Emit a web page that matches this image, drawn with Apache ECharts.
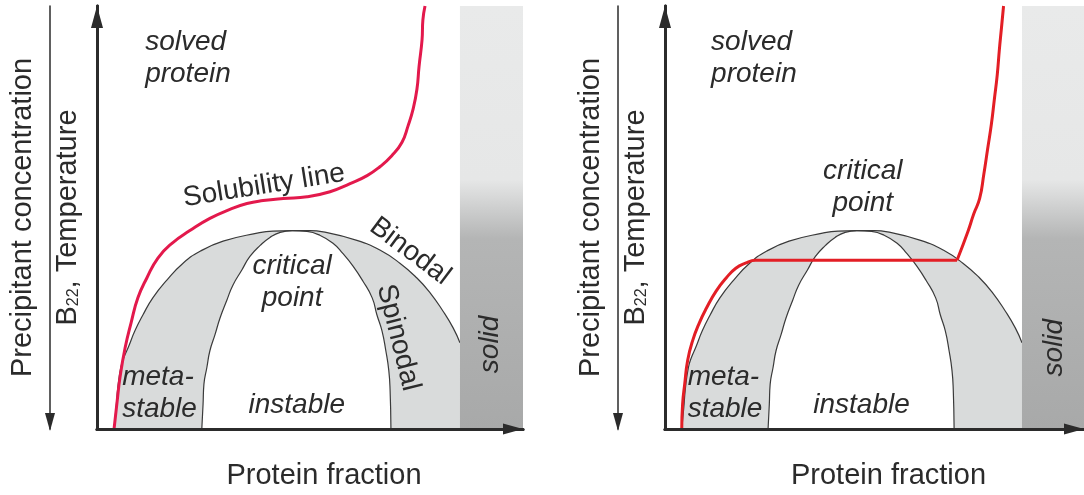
<!DOCTYPE html>
<html>
<head>
  <meta charset="UTF-8">
  <title>Phase diagram</title>
  <script src="https://cdn.jsdelivr.net/npm/echarts@6/dist/echarts.min.js"></script>
</head>
<body style="margin:0">
  <div id="main" style="width: 1084px; height: 495px;"></div>

  <script>
    // x = protein fraction, y = precipitant concentration (schematic 0..100)
    const binodal = [[4.0, 0], [4.5, 5.2], [4.9, 9.9], [5.6, 14.6], [6.3, 16.9], [7.3, 19.2], [8.9, 23.2],
      [10.8, 27.0], [13.1, 31.0], [16.4, 35.2], [20.2, 39.2], [24.2, 42.0], [29.6, 44.4], [37.6, 46.3],
      [41.3, 46.8], [45.8, 46.9], [50.0, 46.9], [53.1, 46.6], [61.0, 44.6], [66.4, 42.3], [71.1, 39.2],
      [75.1, 35.7], [78.2, 32.2], [81.2, 27.9], [83.6, 23.9], [85.2, 20.4]];
    const spinodal = [[24.6, 0], [24.9, 5.9], [25.1, 10.6], [25.8, 14.6], [26.5, 18.5], [27.7, 22.3],
      [28.9, 26.3], [30.5, 30.5], [31.9, 34.0], [34.0, 37.6], [35.9, 40.8], [38.3, 43.4], [40.6, 45.3],
      [43.0, 46.5], [45.8, 46.9], [49.3, 46.7], [52.3, 45.8], [55.4, 43.9], [57.7, 41.5], [60.1, 38.5],
      [62.4, 35.0], [64.6, 31.0], [65.7, 27.0], [66.9, 23.2], [67.8, 18.5], [68.5, 13.8], [68.8, 9.2],
      [69.0, 0]];
    const solubilityLeft = [[4.0, 0], [4.7, 6.3], [5.4, 12.2], [6.6, 19.2], [8.0, 25.1], [9.6, 31.0],
      [11.7, 35.7], [14.3, 40.4], [17.6, 43.9], [21.8, 46.9], [26.5, 49.8], [31.2, 51.9], [35.2, 53.3],
      [39.0, 54.0], [43.7, 54.5], [49.3, 54.9], [54.7, 56.1], [59.4, 58.0], [63.4, 59.9], [66.4, 62.0],
      [69.2, 64.6], [71.6, 67.8], [73.0, 71.6], [74.2, 75.6], [75.1, 80.3], [75.6, 85.7], [76.3, 92.0],
      [76.5, 96.7], [77.0, 100]];
    const solubilityRightLow = [[4.0, 0], [4.2, 5.9], [4.7, 10.6], [5.4, 16.2], [6.6, 20.9], [8.2, 25.1],
      [9.9, 28.6], [12.2, 32.6], [14.6, 35.7], [16.9, 38.0], [19.2, 39.2], [21.6, 39.9], [23.9, 39.9],
      [35.0, 39.9], [47.0, 39.9], [58.0, 39.9], [69.7, 39.9]];
    const solubilityRightHigh = [[69.7, 39.9], [72.3, 46.7], [73.7, 50.9], [75.1, 54.5], [76.1, 60.3],
      [77.0, 66.2], [77.9, 72.1], [78.6, 77.9], [79.3, 83.8], [79.8, 89.7], [80.3, 94.8], [80.8, 100]];
    const solidBand = [[85.2, 100]];

    // [x, y, text, rotate, align, italic]
    const labelsLeft = [
      [11.3, 87.6, 'solved\nprotein', 0, 'left', true],
      [39.2, 57.5, 'Solubility line', 9, 'center', false],
      [73.5, 42.0, 'Binodal', -37, 'center', false],
      [70.7, 21.6, 'Spinodal', -76, 'center', false],
      [45.8, 34.7, 'critical\npoint', 0, 'center', true],
      [5.9, 8.5, 'meta-\nstable', 0, 'left', true],
      [46.9, 5.6, 'instable', 0, 'center', true],
      [92.3, 20.0, 'solid', 90, 'center', true]
    ];
    const labelsRight = [
      [11.0, 87.6, 'solved\nprotein', 0, 'left', true],
      [47.2, 57.2, 'critical\npoint', 0, 'center', true],
      [5.4, 8.5, 'meta-\nstable', 0, 'left', true],
      [46.9, 5.6, 'instable', 0, 'center', true],
      [92.8, 19.2, 'solid', 90, 'center', true]
    ];

    const FONT = '"Liberation Sans", Arial, sans-serif';
    const INK = '#2b2b2b';

    const hidden = { axisTick: { show: false }, axisLabel: { show: false }, splitLine: { show: false } };

    function xAxes(gi) {
      return [
        Object.assign({
          gridIndex: gi, type: 'value', min: 0, max: 100, position: 'bottom', z: 10,
          axisLine: { show: true, symbol: ['none', 'triangle'], symbolSize: [11, 20], symbolOffset: [0, -10],
            lineStyle: { color: INK, width: 3 } },
          name: 'Protein fraction', nameLocation: 'middle', nameGap: 32,
          nameTextStyle: { fontSize: 29, color: INK, fontFamily: FONT, padding: [0, 0, 0, 28] }
        }, hidden),
        Object.assign({
          gridIndex: gi, type: 'value', min: 0, max: 100, position: 'top', z: 10,
          axisLine: { show: true, lineStyle: { color: INK, width: 3 } }
        }, hidden)
      ];
    }

    function yAxes(gi) {
      return [
        Object.assign({
          gridIndex: gi, type: 'value', min: 0, max: 100, position: 'left', z: 10,
          axisLine: { show: true, symbol: ['none', 'triangle'], symbolSize: [12, 22], symbolOffset: [0, -11],
            lineStyle: { color: INK, width: 3 } },
          name: '{b|B}{s|22}{b|, Temperature}', nameLocation: 'middle', nameGap: 15,
          nameTextStyle: { color: INK, fontFamily: FONT, fontSize: 29,
            rich: { b: { fontSize: 29, color: INK, fontFamily: FONT, verticalAlign: 'bottom', lineHeight: 32 },
                    s: { fontSize: 16, color: INK, fontFamily: FONT, verticalAlign: 'bottom', lineHeight: 18 } } }
        }, hidden),
        Object.assign({
          gridIndex: gi, type: 'value', min: 0, max: 100, position: 'right', z: 10,
          axisLine: { show: true, lineStyle: { color: INK, width: 3 } }
        }, hidden),
        Object.assign({
          gridIndex: gi, type: 'value', min: 0, max: 100, position: 'left', offset: 47, z: 10,
          axisLine: { show: true, symbol: ['triangle', 'none'], symbolSize: [10, 18], symbolOffset: [7, 0],
            lineStyle: { color: INK, width: 1.5 } },
          name: 'Precipitant concentration', nameLocation: 'middle', nameGap: 13,
          nameTextStyle: { fontSize: 29, color: INK, fontFamily: FONT }
        }, hidden)
      ];
    }

    function panelSeries(xi, yi, lows, highs, red, labels) {
      const base = { xAxisIndex: xi, yAxisIndex: yi, showSymbol: false, silent: true, animation: false,
        smooth: 0.5 };
      const s = [
        Object.assign({ type: 'line', data: binodal, z: 2,
          lineStyle: { width: 0 }, areaStyle: { color: '#d9dbdb', opacity: 1 } }, base),
        Object.assign({ type: 'line', data: spinodal, z: 3,
          lineStyle: { color: '#3a3a3a', width: 1.2 }, areaStyle: { color: '#fff', opacity: 1 } }, base),
        Object.assign({ type: 'line', data: binodal, z: 4,
          lineStyle: { color: '#3a3a3a', width: 1.2 } }, base),
        Object.assign({ type: 'custom', data: solidBand, z: 5,
          renderItem: function (params, api) {
            const p0 = api.coord([api.value(0), 100]);
            const p1 = api.coord([api.value(1), 0]);
            return {
              type: 'rect',
              shape: { x: p0[0], y: p0[1], width: p1[0] - p0[0], height: p1[1] - p0[1] },
              style: { fill: new echarts.graphic.LinearGradient(0, 0, 0, 1, [
                { offset: 0, color: '#e9eaea' }, { offset: 0.41, color: '#e6e7e7' },
                { offset: 0.55, color: '#b4b5b5' }, { offset: 1, color: '#a8a9a9' }]) }
            };
          } }, base)
      ];
      lows.concat(highs).forEach(function (d) {
        s.push(Object.assign({ type: 'line', data: d, z: 6,
          lineStyle: { color: red, width: 3 } }, base));
      });
      s.push(Object.assign({ type: 'scatter', symbolSize: 0, z: 8, itemStyle: { opacity: 1 },
        data: labels.map(function (l) {
          return {
            value: [l[0], l[1]], name: l[2],
            label: { rotate: l[3], align: l[4], fontStyle: l[5] ? 'italic' : 'normal' }
          };
        }),
        label: { show: true, position: 'inside', formatter: '{b}', fontSize: 28, lineHeight: 32,
          color: INK, opacity: 1, fontFamily: FONT, verticalAlign: 'middle', textBorderWidth: 0 } }, base));
      return s;
    }

    const option = {
      animation: false,
      backgroundColor: '#fff',
      grid: [
        { left: 97, top: 6, width: 426, height: 426 },
        { left: 665, top: 6, width: 426, height: 426 }
      ],
      xAxis: xAxes(0).concat(xAxes(1)),
      yAxis: yAxes(0).concat(yAxes(1)),
      series: panelSeries(0, 0, [solubilityLeft], [], '#e3194c', labelsLeft)
        .concat(panelSeries(2, 3, [solubilityRightLow], [solubilityRightHigh], '#e31e25', labelsRight))
    };

    const chart = echarts.init(document.getElementById('main'));
    chart.setOption(option);
  </script>
</body>
</html>
